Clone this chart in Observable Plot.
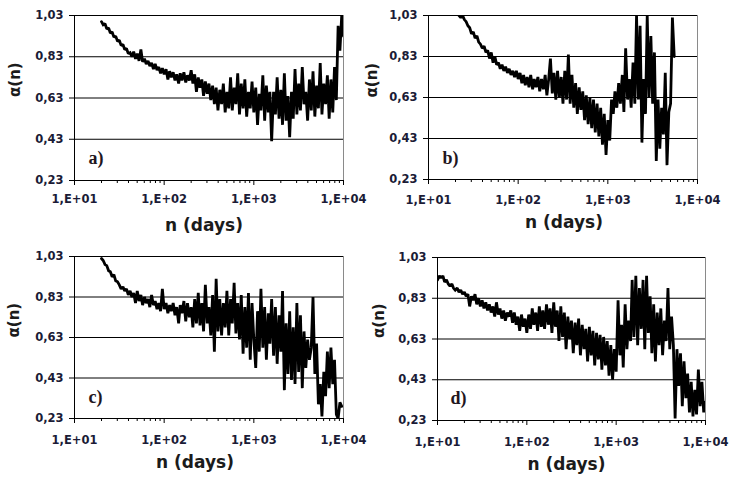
<!DOCTYPE html>
<html><head><meta charset="utf-8">
<script src="https://cdn.jsdelivr.net/npm/d3@7"></script>
<script src="https://cdn.jsdelivr.net/npm/@observablehq/plot@0.6"></script>
<style>
body{margin:0;background:#fff;}
#wrap{position:relative;width:729px;height:481px;overflow:hidden;background:#fff;}
</style></head><body><div id="wrap"></div>
<script>
// n (days) sample points, shared by the four panels
const nDays = [
 10,10.5,11,11.5,12,12.6,13.2,13.8,14.5,15.1,15.8,16.6,17.4,18.2,19.1,20,20.9,21.9,22.9,24,
 25.1,26.3,27.5,28.8,30.2,31.6,33.1,34.7,36.3,38,39.8,41.7,43.7,45.7,47.9,50.1,52.5,55,57.5,60.3,
 63.1,66.1,69.2,72.4,75.9,79.4,83.2,87.1,91.2,95.5,
 100,105,110,115,120,126,132,138,145,151,158,166,174,182,191,200,209,219,229,240,
 251,263,275,288,302,316,331,347,363,380,398,417,437,457,479,501,525,550,575,603,
 631,661,692,724,759,794,832,871,912,955,
 1000,1050,1100,1150,1200,1260,1320,1380,1450,1510,1580,1660,1740,1820,1910,2000,2090,2190,2290,2400,
 2510,2630,2750,2880,3020,3160,3310,3470,3630,3800,3980,4170,4370,4570,4790,5010,5250,5500,5750,6030,
 6310,6610,6920,7240,7590,7940,8320,8710,9120,9550,10000
];

// alpha(n) per panel (null = no data)
const alphaA = [
 null,null,null,null,null,null,null,null,null,null,
 null,null,null,null,null,1.00,0.985,0.99,0.965,0.97,
 0.945,0.95,0.925,0.93,0.905,0.91,0.885,0.89,0.865,0.87,
 0.845,0.85,0.83,0.855,0.82,0.845,0.81,0.865,0.805,0.82,
 0.795,0.81,0.785,0.80,0.77,0.795,0.765,0.78,0.75,0.775,
 0.745,0.77,0.72,0.76,0.73,0.755,0.715,0.745,0.70,0.75,
 0.715,0.755,0.705,0.74,0.715,0.765,0.70,0.745,0.66,0.73,
 0.68,0.72,0.64,0.71,0.65,0.70,0.62,0.69,0.60,0.68,
 0.57,0.67,0.60,0.70,0.56,0.66,0.58,0.73,0.57,0.68,
 0.60,0.75,0.55,0.70,0.58,0.72,0.54,0.66,0.58,0.71,
 0.56,0.68,0.50,0.65,0.57,0.74,0.52,0.69,0.56,0.66,
 0.42,0.66,0.55,0.73,0.53,0.67,0.50,0.75,0.52,0.64,
 0.44,0.66,0.53,0.77,0.55,0.70,0.57,0.78,0.60,0.66,
 0.52,0.72,0.57,0.76,0.54,0.69,0.58,0.80,0.55,0.70,
 0.60,0.74,0.53,0.72,0.56,0.78,0.62,0.98,0.86,1.03,
 0.93
];
const alphaB = [
 null,null,null,null,null,null,null,null,null,null,
 null,null,null,null,null,null,null,1.03,1.02,1.03,
 1.01,1.00,0.98,0.97,0.94,0.95,0.92,0.93,0.90,0.89,
 0.87,0.88,0.85,0.86,0.82,0.85,0.80,0.83,0.79,0.80,
 0.77,0.79,0.76,0.78,0.75,0.77,0.74,0.76,0.73,0.76,
 0.72,0.75,0.70,0.74,0.69,0.73,0.68,0.74,0.67,0.72,
 0.68,0.73,0.66,0.72,0.67,0.74,0.64,0.72,0.82,0.65,
 0.75,0.62,0.76,0.63,0.73,0.60,0.76,0.62,0.84,0.60,
 0.74,0.58,0.70,0.55,0.68,0.57,0.66,0.52,0.64,0.50,
 0.63,0.48,0.62,0.46,0.60,0.44,0.58,0.40,0.55,0.35,
 0.52,0.42,0.62,0.55,0.66,0.58,0.70,0.60,0.74,0.56,
 0.87,0.62,0.72,0.58,0.80,0.60,1.03,0.62,0.98,0.41,
 0.72,0.55,1.03,0.63,0.93,0.60,0.85,0.32,0.62,0.38,
 0.58,0.45,0.75,0.30,0.56,0.60,1.02,0.83,null,null,
 null,null,null,null,null,null,null,null,null,null,
 null
];
const alphaC = [
 null,null,null,null,null,null,null,null,null,null,
 null,null,null,null,null,1.02,1.01,0.99,0.985,0.96,
 0.955,0.93,0.94,0.91,0.905,0.89,0.87,0.88,0.86,0.87,
 0.84,0.86,0.83,0.85,0.80,0.86,0.81,0.84,0.79,0.83,
 0.80,0.82,0.78,0.84,0.79,0.81,0.77,0.80,0.76,0.87,
 0.77,0.80,0.75,0.79,0.76,0.80,0.74,0.78,0.70,0.79,
 0.75,0.81,0.71,0.80,0.73,0.78,0.68,0.82,0.70,0.85,
 0.69,0.80,0.66,0.89,0.70,0.78,0.64,0.84,0.56,0.92,
 0.66,0.82,0.64,0.80,0.68,0.86,0.64,0.82,0.70,0.90,
 0.65,0.80,0.62,0.84,0.55,0.78,0.58,0.85,0.52,0.80,
 0.62,0.48,0.76,0.56,0.87,0.58,0.78,0.52,0.75,0.60,
 0.82,0.54,0.78,0.50,0.74,0.56,0.86,0.37,0.70,0.45,
 0.76,0.42,0.68,0.40,0.80,0.46,0.74,0.38,0.66,0.48,
 0.62,0.52,0.58,0.83,0.45,0.60,0.30,0.40,0.24,0.46,
 0.34,0.56,0.38,0.58,0.40,0.52,0.25,0.23,0.31,0.29,
 null
];
const alphaD = [
 0.92,0.94,0.93,0.94,0.91,0.92,0.90,0.89,0.90,0.88,
 0.87,0.88,0.86,0.87,0.85,0.86,0.84,0.85,0.79,0.84,
 0.82,0.85,0.80,0.83,0.79,0.82,0.78,0.81,0.77,0.80,
 0.76,0.79,0.74,0.81,0.75,0.78,0.73,0.77,0.72,0.76,
 0.74,0.77,0.71,0.76,0.70,0.74,0.67,0.75,0.69,0.73,
 0.66,0.75,0.68,0.78,0.70,0.76,0.67,0.79,0.69,0.77,
 0.68,0.80,0.70,0.78,0.66,0.81,0.69,0.77,0.62,0.79,
 0.64,0.76,0.58,0.74,0.63,0.72,0.56,0.71,0.60,0.73,
 0.55,0.70,0.58,0.68,0.52,0.69,0.55,0.67,0.50,0.66,
 0.53,0.65,0.48,0.64,0.50,0.62,0.45,0.60,0.43,0.58,
 0.47,0.82,0.55,0.70,0.49,0.80,0.58,0.72,0.62,0.92,
 0.64,0.94,0.60,0.88,0.68,0.92,0.58,0.94,0.66,0.84,
 0.56,0.80,0.52,0.76,0.60,0.78,0.55,0.72,0.62,0.88,
 0.58,0.74,0.60,0.24,0.58,0.40,0.56,0.30,0.52,0.34,
 0.46,0.27,0.42,0.25,0.38,0.26,0.48,0.30,0.42,0.27,
 0.32
];

const yTicks = [0.23, 0.43, 0.63, 0.83, 1.03];
const yTickLabels = ["0,23", "0,43", "0,63", "0,83", "1,03"];
const xTicks = [10, 100, 1000, 10000];
const xTickLabels = ["1,E+01", "1,E+02", "1,E+03", "1,E+04"];
const panelLabels = ["a)", "b)", "c)", "d)"];
const xTitle = "n (days)";
const yTitle = "α(n)";

const layout = [
  {series: alphaA, left: 0,   top: 0,   w: 365, h: 240, mL: 74, mR: 22, mT: 15, mB: 60, tp: 9,  xdx: -5,  xdy: 50, ydx: -59, ydy: -1, ldx: 14, ldy: -16.5},
  {series: alphaB, left: 365, top: 0,   w: 364, h: 240, mL: 63, mR: 32, mT: 15, mB: 61, tp: 11, xdx: 1,   xdy: 48, ydx: -56, ydy: 0,  ldx: 14, ldy: -15.5},
  {series: alphaC, left: 0,   top: 240, w: 365, h: 241, mL: 74, mR: 22, mT: 16, mB: 63, tp: 12, xdx: -14, xdy: 49, ydx: -60, ydy: 0,  ldx: 14, ldy: -15.5},
  {series: alphaD, left: 365, top: 240, w: 364, h: 241, mL: 72, mR: 24, mT: 17, mB: 61, tp: 12, xdx: -5,  xdy: 49, ydx: -58, ydy: -1, ldx: 13, ldy: -16.5}
];

const minorTicks = xTicks.slice(0, -1).flatMap(t => [2,3,4,5,6,7,8,9].map(k => k * t));
const wrap = document.getElementById("wrap");

layout.forEach((p, k) => {
  const data = nDays.map((n, i) => ({n, a: p.series[i]})).filter(d => d.a != null && d.a !== undefined);
  const chart = Plot.plot({
    width: p.w, height: p.h,
    marginLeft: p.mL, marginRight: p.mR, marginTop: p.mT, marginBottom: p.mB,
    style: {fontFamily: "DejaVu Sans", fontSize: "11.5px", fontWeight: "bold", color: "#1b1b36", background: "transparent", overflow: "visible"},
    x: {type: "log", domain: [10, 10000]},
    y: {domain: [0.23, 1.03]},
    marks: [
      Plot.ruleY(yTicks.slice(1), {stroke: "#000", strokeWidth: 1}),
      Plot.ruleX([10000], {stroke: "#8a8a8a"}),
      Plot.line(data, {x: "n", y: "a", stroke: "#000", strokeWidth: 2.8, strokeLinejoin: "miter", strokeMiterlimit: 1.5, clip: true}),
      Plot.ruleY([0.23], {stroke: "#000"}),
      Plot.ruleX([10], {stroke: "#000"}),
      Plot.axisY({ticks: yTicks, tickSize: 5, tickPadding: 6, stroke: "#000", tickFormat: d => yTickLabels[yTicks.indexOf(d)], label: null}),
      Plot.axisX({ticks: xTicks, tickSize: 5, tickPadding: p.tp, stroke: "#000", tickFormat: d => xTickLabels[xTicks.indexOf(d)], label: null}),
      Plot.axisX({ticks: minorTicks, tickSize: 3, stroke: "#000", tickFormat: () => "", label: null}),
      Plot.text([xTitle], {text: d => d, frameAnchor: "bottom", dx: p.xdx, dy: p.xdy, fontSize: 17, fontWeight: "bold", fill: "#1b1b1b"}),
      Plot.text([yTitle], {text: d => d, frameAnchor: "left", dx: p.ydx, dy: p.ydy, rotate: -90, fontSize: 15, fontWeight: "bold", fill: "#1b1b1b"}),
      Plot.text([panelLabels[k]], {text: d => d, frameAnchor: "bottom-left", dx: p.ldx, dy: p.ldy, textAnchor: "start", fontFamily: "Liberation Serif", fontSize: 18, fontWeight: "bold", fill: "#1f1620"})
    ]
  });
  chart.style.position = "absolute";
  chart.style.left = p.left + "px";
  chart.style.top = p.top + "px";
  wrap.appendChild(chart);
});
</script>
</body></html>
